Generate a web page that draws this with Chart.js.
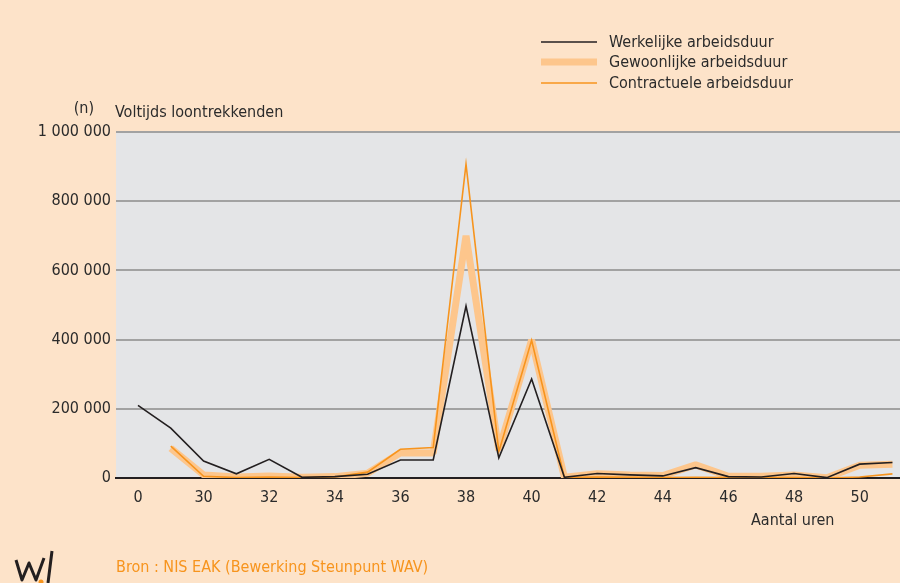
<!DOCTYPE html>
<html>
<head>
<meta charset="utf-8">
<script src="https://cdn.jsdelivr.net/npm/chart.js@4.4.1/dist/chart.umd.min.js"></script>
<style>
  html, body { margin: 0; padding: 0; background: #fde3c9; }
  #wrap { width: 900px; height: 583px; }
</style>
</head>
<body>
<div id="wrap"><canvas id="uren-chart" width="900" height="583"></canvas></div>
<script>
// hours per week (second point has no label in the source)
const categories = ['0', '29', '30', '31', '32', '33', '34', '35', '36', '37', '38', '39',
  '40', '41', '42', '43', '44', '45', '46', '47', '48', '49', '50', '51'];

const werkelijke = [210000, 144000, 49000, 12000, 54000, 2000, 4000, 11000, 52000, 52000,
  497000, 58000, 286000, 2000, 13000, 9000, 6000, 30000, 4000, 3000, 13000, 1000, 40000, 45000];

const gewoonlijke = [null, 86000, 9000, 3000, 6000, 2000, 4000, 14000, 73000, 72000,
  700000, 80000, 399000, 2000, 12000, 9000, 7000, 38000, 5000, 5000, 9000, 1000, 37000, 40000];

const contractuele = [null, 92000, 5000, 1000, 3000, 1000, 3000, 17000, 83000, 88000,
  907000, 76000, 398000, 1000, 3000, 2000, 1000, 2000, 1000, 1000, 1000, 0, 3000, 12000];

const yTicks = [0, 200000, 400000, 600000, 800000, 1000000];

const FONT = '"Liberation Sans Narrow", "DejaVu Sans Condensed", "Roboto", sans-serif';
const TXT = '#2b2b2b';

function fmt(v) {
  return String(v).replace(/\B(?=(\d{3})+(?!\d))/g, ' ');
}

function pts(arr) {
  return arr.map((v, i) => ({x: i, y: v}));
}

// page decorations: plot background, legend, titles, source line
const decor = {
  id: 'decor',
  beforeDraw(chart) {
    const {ctx, chartArea: a} = chart;
    ctx.save();
    ctx.fillStyle = '#e4e5e7';
    ctx.fillRect(a.left, a.top, a.right - a.left, a.bottom - a.top);
    ctx.restore();
  },
  afterDraw(chart) {
    const ctx = chart.ctx;
    ctx.save();
    ctx.textBaseline = 'middle';
    ctx.font = '16px ' + FONT;
    ctx.fillStyle = TXT;

    // legend
    const order = [0, 2, 1];
    const ys = [42, 62, 83];
    order.forEach((di, k) => {
      const ds = chart.data.datasets[di];
      ctx.strokeStyle = ds.borderColor;
      ctx.lineWidth = ds.borderWidth;
      ctx.beginPath();
      ctx.moveTo(541, ys[k]);
      ctx.lineTo(597, ys[k]);
      ctx.stroke();
      ctx.fillText(ds.label, 609, ys[k] + 1);
    });

    ctx.textAlign = 'right';
    ctx.fillText('(n)', 94, 109);
    ctx.textAlign = 'left';
    ctx.fillText('Voltijds loontrekkenden', 115, 113);
    ctx.fillText('Aantal uren', 751, 521);

    ctx.fillStyle = '#f7941d';
    ctx.fillText('Bron : NIS EAK (Bewerking Steunpunt WAV)', 116, 568);

    // small logo
    ctx.strokeStyle = '#231f20';
    ctx.lineWidth = 3;
    ctx.lineJoin = 'round';
    ctx.beginPath();
    ctx.moveTo(16, 560);
    ctx.lineTo(22, 580);
    ctx.lineTo(29, 563);
    ctx.lineTo(36, 580);
    ctx.lineTo(44, 558);
    ctx.moveTo(52, 551);
    ctx.lineTo(48, 583);
    ctx.stroke();
    ctx.fillStyle = '#f7941d';
    ctx.beginPath();
    ctx.arc(41, 582, 2.5, 0, Math.PI * 2);
    ctx.fill();
    ctx.restore();
  }
};

const config = {
  type: 'line',
  data: {
    datasets: [
      {
        label: 'Werkelijke arbeidsduur',
        data: pts(werkelijke),
        borderColor: '#231f20',
        borderWidth: 1.6,
        order: 0,
      },
      {
        label: 'Contractuele arbeidsduur',
        data: pts(contractuele),
        borderColor: '#f7941d',
        borderWidth: 1.6,
        order: 1,
      },
      {
        label: 'Gewoonlijke arbeidsduur',
        data: pts(gewoonlijke),
        borderColor: '#fdc68c',
        borderWidth: 7,
        borderJoinStyle: 'bevel',
        order: 2,
      },
    ]
  },
  plugins: [decor],
  options: {
    responsive: false,
    animation: false,
    layout: {padding: {top: 132, left: 0, right: 0, bottom: 0}},
    elements: {
      point: {radius: 0, hoverRadius: 0},
      line: {tension: 0, fill: false, borderJoinStyle: 'miter'},
    },
    plugins: {
      legend: {display: false},
      tooltip: {enabled: false},
    },
    scales: {
      x: {
        type: 'linear',
        min: -0.67,
        max: 23.23,
        afterFit(s) { s.height = 105; },
        afterBuildTicks(s) {
          s.ticks = categories.map((c, i) => ({value: i})).filter(t => t.value % 2 === 0);
        },
        ticks: {
          autoSkip: false,
          maxRotation: 0,
          padding: 10,
          color: TXT,
          font: {family: FONT, size: 16},
          callback: v => categories[v],
        },
        grid: {display: false, drawTicks: false},
        border: {display: true, color: '#231f20', width: 2},
      },
      y: {
        min: 0,
        max: 1000000,
        afterFit(s) { s.width = 116; },
        afterBuildTicks(s) { s.ticks = yTicks.map(v => ({value: v})); },
        ticks: {
          padding: 5,
          color: TXT,
          font: {family: FONT, size: 16},
          callback: v => fmt(v),
        },
        grid: {
          drawTicks: false,
          lineWidth: 2,
          color: c => c.tick.value === 0 ? '#231f20' : '#a2a2a2',
        },
        border: {display: false},
      }
    }
  }
};

const ctx = document.getElementById('uren-chart').getContext('2d');
const uurChart = new Chart(ctx, config);
window.uurChart = uurChart;
</script>
</body>
</html>
